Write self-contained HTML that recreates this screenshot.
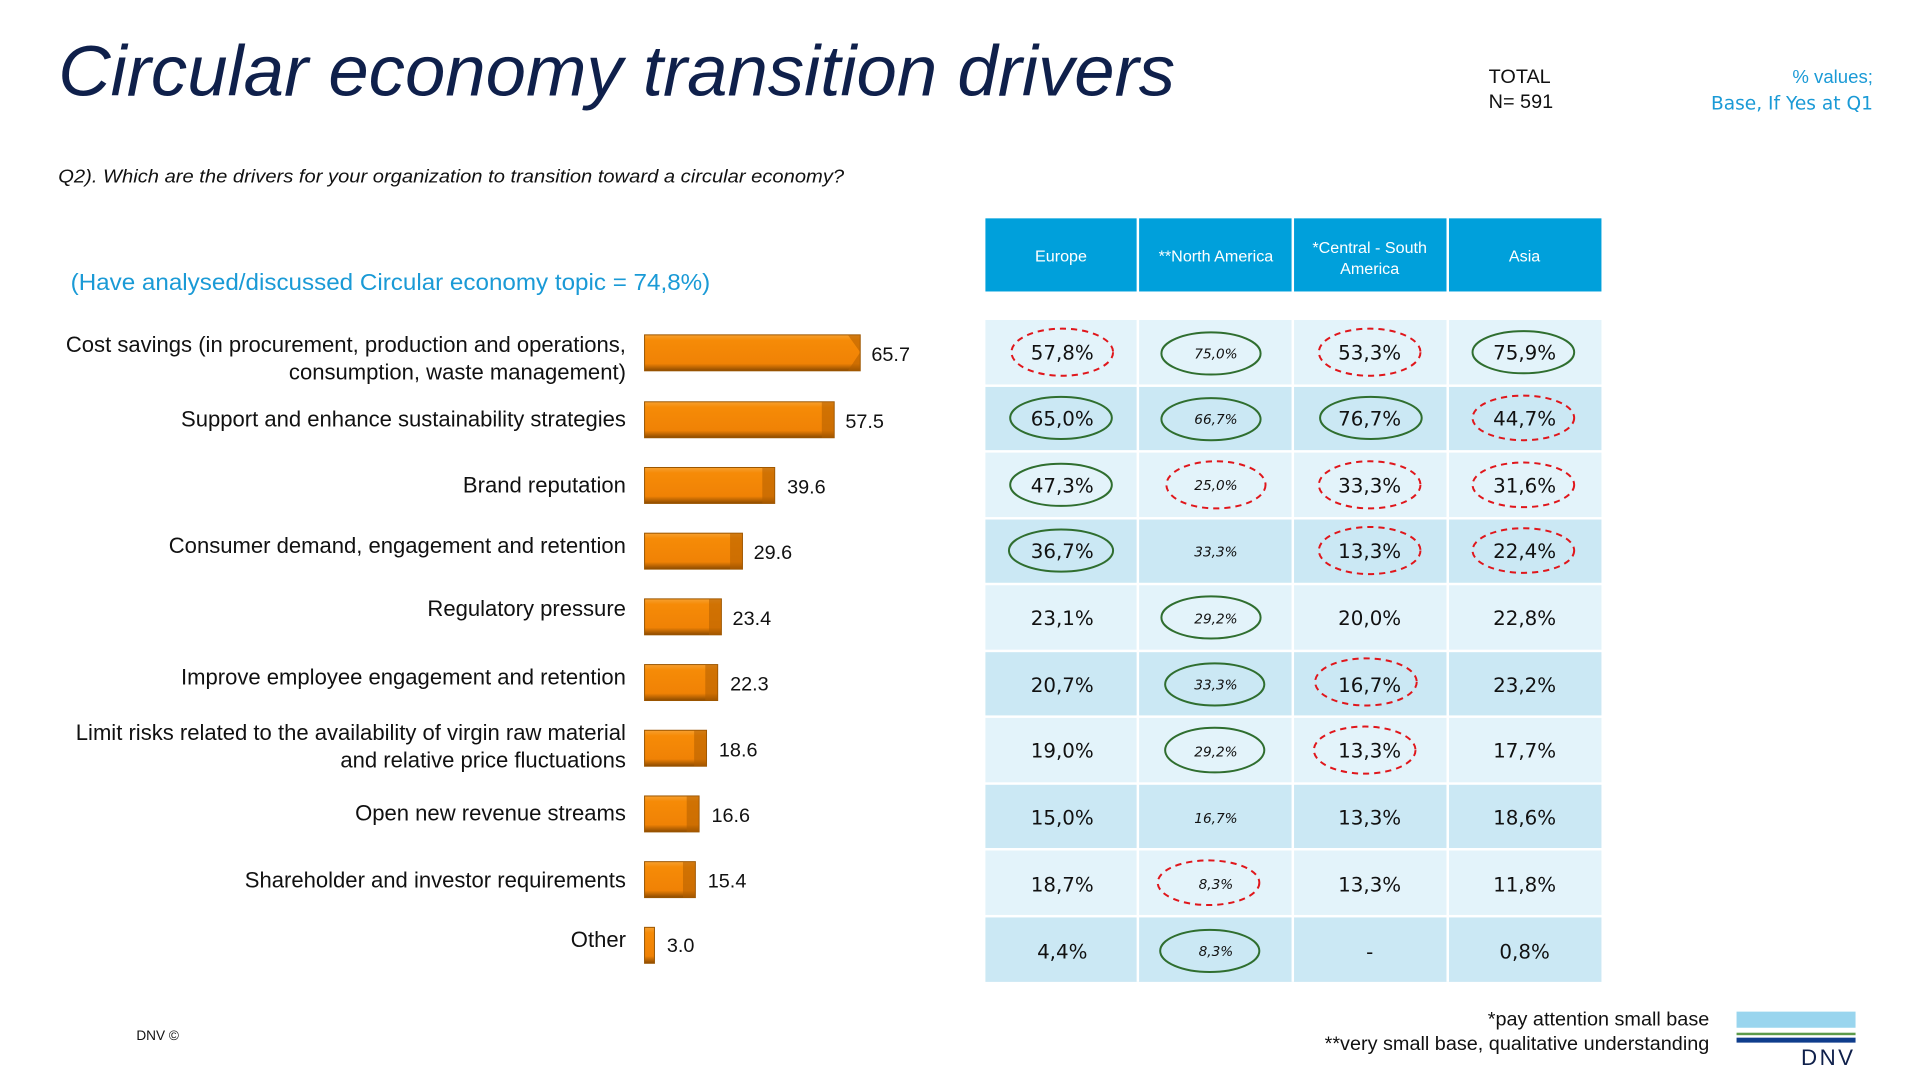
<!DOCTYPE html>
<html><head><meta charset="utf-8"><style>
html,body{margin:0;padding:0;background:#fff;width:1920px;height:1080px;overflow:hidden}
svg{display:block}
.c{font-family:"DejaVu Sans",Verdana,sans-serif;font-size:16px;fill:#111;text-anchor:middle}
.n{font-family:"DejaVu Sans",Verdana,sans-serif;font-size:11px;font-style:italic;fill:#111;text-anchor:middle}
.l{font-family:"Liberation Sans",Arial,sans-serif;font-size:17.8px;fill:#111;text-anchor:end}
.v{font-family:"Liberation Sans",Arial,sans-serif;font-size:16px;fill:#111}
.h{font-family:"Liberation Sans",Arial,sans-serif;font-size:13px;fill:#fff;text-anchor:middle}
.g{fill:none;stroke:#2f6e2f;stroke-width:1.6}
.r{fill:none;stroke:#e0161b;stroke-width:1.6;stroke-dasharray:5 4}
</style></head><body>
<svg width="1920" height="1080" viewBox="0 0 1549 871" xmlns="http://www.w3.org/2000/svg">
<defs>
<linearGradient id="bar" x1="0" y1="0" x2="0" y2="1">
<stop offset="0" stop-color="#f7a030"/><stop offset="0.15" stop-color="#f68b07"/><stop offset="0.8" stop-color="#f08205"/><stop offset="1" stop-color="#8b4a00"/>
</linearGradient>
</defs>
<text x="47" y="77" font-family="Liberation Sans, Arial, sans-serif" font-style="italic" font-size="58" fill="#0f204b" textLength="901" lengthAdjust="spacingAndGlyphs">Circular economy transition drivers</text>
<text x="1201" y="67" font-family="Liberation Sans, Arial, sans-serif" font-size="16" fill="#111">TOTAL</text>
<text x="1201" y="87" font-family="Liberation Sans, Arial, sans-serif" font-size="16" fill="#111">N= 591</text>
<text x="1511" y="67" font-family="Liberation Sans, Arial, sans-serif" font-size="15" fill="#1a9ad6" text-anchor="end">% values;</text>
<text x="1511" y="88" font-family="DejaVu Sans, Verdana, sans-serif" font-size="15" fill="#1a9ad6" text-anchor="end">Base, If Yes at Q1</text>
<text x="47" y="147" font-family="Liberation Sans, Arial, sans-serif" font-style="italic" font-size="15" fill="#111" textLength="634" lengthAdjust="spacingAndGlyphs">Q2). Which are the drivers for your organization to transition toward a circular economy?</text>
<text x="57" y="234" font-family="Liberation Sans, Arial, sans-serif" font-size="19" fill="#1a9ad6" textLength="516" lengthAdjust="spacingAndGlyphs">(Have analysed/discussed Circular economy topic = 74,8%)</text>

<g fill="#00a0db">
<rect x="795" y="176" width="122" height="59"/><rect x="919" y="176" width="123" height="59"/><rect x="1044" y="176" width="123" height="59"/><rect x="1169" y="176" width="123" height="59"/>
</g>
<text class="h" x="856" y="211">Europe</text>
<text class="h" x="981" y="211">**North America</text>
<text class="h" x="1105" y="204">*Central - South</text>
<text class="h" x="1105" y="221">America</text>
<text class="h" x="1230" y="211">Asia</text>

<g>
<rect x="795" y="258" width="497" height="52" fill="#e3f3fa"/>
<rect x="795" y="312" width="497" height="51" fill="#cbe8f4"/>
<rect x="795" y="365" width="497" height="52" fill="#e3f3fa"/>
<rect x="795" y="419" width="497" height="51" fill="#cbe8f4"/>
<rect x="795" y="472" width="497" height="52" fill="#e3f3fa"/>
<rect x="795" y="526" width="497" height="51" fill="#cbe8f4"/>
<rect x="795" y="579" width="497" height="52" fill="#e3f3fa"/>
<rect x="795" y="633" width="497" height="51" fill="#cbe8f4"/>
<rect x="795" y="686" width="497" height="52" fill="#e3f3fa"/>
<rect x="795" y="740" width="497" height="52" fill="#cbe8f4"/>
<g fill="#fff"><rect x="917" y="258" width="2" height="534"/><rect x="1042" y="258" width="2" height="534"/><rect x="1167" y="258" width="2" height="534"/></g>
</g>

<ellipse class="r" cx="857" cy="284" rx="41" ry="19"/><ellipse class="g" cx="977" cy="285" rx="40" ry="17"/><ellipse class="r" cx="1105" cy="284" rx="41" ry="19"/><ellipse class="g" cx="1229" cy="284" rx="41" ry="17"/>
<ellipse class="g" cx="856" cy="337" rx="41" ry="17"/><ellipse class="g" cx="977" cy="338" rx="40" ry="17"/><ellipse class="g" cx="1106" cy="337" rx="41" ry="17"/><ellipse class="r" cx="1229" cy="337" rx="41" ry="18"/>
<ellipse class="g" cx="856" cy="391" rx="41" ry="17"/><ellipse class="r" cx="981" cy="391" rx="40" ry="19"/><ellipse class="r" cx="1105" cy="391" rx="41" ry="19"/><ellipse class="r" cx="1229" cy="391" rx="41" ry="18"/>
<ellipse class="g" cx="856" cy="444" rx="42" ry="17"/><ellipse class="r" cx="1105" cy="444" rx="41" ry="19"/><ellipse class="r" cx="1229" cy="444" rx="41" ry="18"/>
<ellipse class="g" cx="977" cy="498" rx="40" ry="17"/>
<ellipse class="g" cx="980" cy="552" rx="40" ry="17"/><ellipse class="r" cx="1102" cy="550" rx="41" ry="19"/>
<ellipse class="g" cx="980" cy="605" rx="40" ry="18"/><ellipse class="r" cx="1101" cy="605" rx="41" ry="19"/>
<ellipse class="r" cx="975" cy="712" rx="41" ry="18"/>
<ellipse class="g" cx="976" cy="767" rx="40" ry="17"/>

<g>
<text class="c" x="857" y="290">57,8%</text><text class="n" x="981" y="289">75,0%</text><text class="c" x="1105" y="290">53,3%</text><text class="c" x="1230" y="290">75,9%</text>
<text class="c" x="857" y="343">65,0%</text><text class="n" x="981" y="342">66,7%</text><text class="c" x="1105" y="343">76,7%</text><text class="c" x="1230" y="343">44,7%</text>
<text class="c" x="857" y="397">47,3%</text><text class="n" x="981" y="395">25,0%</text><text class="c" x="1105" y="397">33,3%</text><text class="c" x="1230" y="397">31,6%</text>
<text class="c" x="857" y="450">36,7%</text><text class="n" x="981" y="449">33,3%</text><text class="c" x="1105" y="450">13,3%</text><text class="c" x="1230" y="450">22,4%</text>
<text class="c" x="857" y="504">23,1%</text><text class="n" x="981" y="503">29,2%</text><text class="c" x="1105" y="504">20,0%</text><text class="c" x="1230" y="504">22,8%</text>
<text class="c" x="857" y="558">20,7%</text><text class="n" x="981" y="556">33,3%</text><text class="c" x="1105" y="558">16,7%</text><text class="c" x="1230" y="558">23,2%</text>
<text class="c" x="857" y="611">19,0%</text><text class="n" x="981" y="610">29,2%</text><text class="c" x="1105" y="611">13,3%</text><text class="c" x="1230" y="611">17,7%</text>
<text class="c" x="857" y="665">15,0%</text><text class="n" x="981" y="664">16,7%</text><text class="c" x="1105" y="665">13,3%</text><text class="c" x="1230" y="665">18,6%</text>
<text class="c" x="857" y="719">18,7%</text><text class="n" x="981" y="717">8,3%</text><text class="c" x="1105" y="719">13,3%</text><text class="c" x="1230" y="719">11,8%</text>
<text class="c" x="857" y="773">4,4%</text><text class="n" x="981" y="771">8,3%</text><text class="c" x="1105" y="773">-</text><text class="c" x="1230" y="773">0,8%</text>
</g>

<g fill="url(#bar)" stroke="#9a5500" stroke-width="0.8">
<rect x="520" y="270" width="174" height="29"/>
<rect x="520" y="324" width="153" height="29"/>
<rect x="520" y="377" width="105" height="29"/>
<rect x="520" y="430" width="79" height="29"/>
<rect x="520" y="483" width="62" height="29"/>
<rect x="520" y="536" width="59" height="29"/>
<rect x="520" y="589" width="50" height="29"/>
<rect x="520" y="642" width="44" height="29"/>
<rect x="520" y="695" width="41" height="29"/>
<rect x="520" y="748" width="8" height="29"/>
</g>
<g fill="#b35f00" opacity="0.55">
<polygon points="684,270 694,270 694,299 684,299 694,284"/>
<polygon points="663,324 673,324 673,353 663,353"/>
<polygon points="615,377 625,377 625,406 615,406"/>
<polygon points="589,430 599,430 599,459 589,459"/>
<polygon points="572,483 582,483 582,512 572,512"/>
<polygon points="569,536 579,536 579,565 569,565"/>
<polygon points="560,589 570,589 570,618 560,618"/>
<polygon points="554,642 564,642 564,671 554,671"/>
<polygon points="551,695 561,695 561,724 551,724"/>
</g>
<g class="v">
<text class="v" x="703" y="291">65.7</text>
<text class="v" x="682" y="345">57.5</text>
<text class="v" x="635" y="398">39.6</text>
<text class="v" x="608" y="451">29.6</text>
<text class="v" x="591" y="504">23.4</text>
<text class="v" x="589" y="557">22.3</text>
<text class="v" x="580" y="610">18.6</text>
<text class="v" x="574" y="663">16.6</text>
<text class="v" x="571" y="716">15.4</text>
<text class="v" x="538" y="768">3.0</text>
</g>
<text class="l" x="505" y="284">Cost savings (in procurement, production and operations,</text>
<text class="l" x="505" y="306">consumption, waste management)</text>
<text class="l" x="505" y="344">Support and enhance sustainability strategies</text>
<text class="l" x="505" y="397">Brand reputation</text>
<text class="l" x="505" y="446">Consumer demand, engagement and retention</text>
<text class="l" x="505" y="497">Regulatory pressure</text>
<text class="l" x="505" y="552">Improve employee engagement and retention</text>
<text class="l" x="505" y="597">Limit risks related to the availability of virgin raw material</text>
<text class="l" x="505" y="619">and relative price fluctuations</text>
<text class="l" x="505" y="662">Open new revenue streams</text>
<text class="l" x="505" y="716">Shareholder and investor requirements</text>
<text class="l" x="505" y="764">Other</text>

<text x="110" y="839" font-family="Liberation Sans, Arial, sans-serif" font-size="11" fill="#111">DNV ©</text>
<text x="1379" y="827" font-family="Liberation Sans, Arial, sans-serif" font-size="16" fill="#111" text-anchor="end">*pay attention small base</text>
<text x="1379" y="847" font-family="Liberation Sans, Arial, sans-serif" font-size="16" fill="#111" text-anchor="end">**very small base, qualitative understanding</text>
<rect x="1401" y="816" width="96" height="13" fill="#99d5ee"/>
<rect x="1401" y="833" width="96" height="2" fill="#5b9a4a"/>
<rect x="1401" y="837" width="96" height="4" fill="#0f3d8c"/>
<text x="1497" y="859" font-family="Liberation Sans, Arial, sans-serif" font-size="18" fill="#0f204b" text-anchor="end" letter-spacing="2">DNV</text>
</svg>
</body></html>
